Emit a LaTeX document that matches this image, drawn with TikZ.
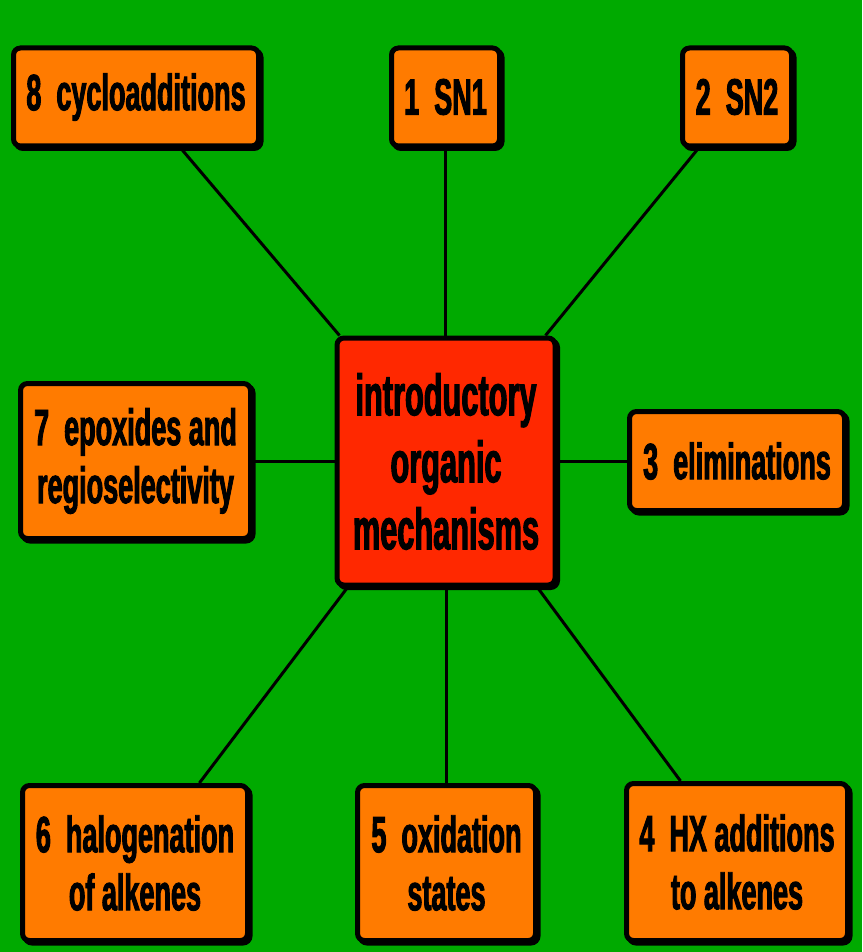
\documentclass[tikz,border=0pt]{standalone}
\usepackage{fontspec}
\newfontfamily\boxfont{Liberation Sans}[FakeStretch=0.53,FakeBold=1.8]
\usetikzlibrary{shadows,calc,backgrounds}
\definecolor{bggreen}{RGB}{0,170,0}
\definecolor{boxorange}{RGB}{255,123,0}
\definecolor{boxred}{RGB}{255,40,0}
\tikzset{
  topic/.style={draw=black, line width=5pt, rounded corners=7pt, fill=boxorange,
    drop shadow={shadow xshift=2.5pt, shadow yshift=-2.5pt, fill=black, draw=black, line width=5pt, opacity=1},
    inner sep=0pt, align=center,
    font=\boxfont\bfseries\fontsize{51}{58}\selectfont},
  hub/.style={topic, fill=boxred, font=\boxfont\bfseries\fontsize{58}{67}\selectfont},
  link/.style={line width=3pt, draw=black}
}
\begin{document}
\begin{tikzpicture}[x=1pt,y=-1pt]
\useasboundingbox (0,0) rectangle (862,952);
% hub
\node[hub, minimum width=218pt, minimum height=247pt] (c) at (446,461.5) {introductory\\organic\\mechanisms};
% topics
\node[topic, minimum width=245pt, minimum height=98pt] (b8) at (136,97) {8\ \ cycloadditions};
\node[topic, minimum width=108pt, minimum height=98pt] (b1) at (445.5,97) {1\ \ SN1};
\node[topic, minimum width=109pt, minimum height=98pt] (b2) at (737,97) {2\ \ SN2};
\node[topic, minimum width=230pt, minimum height=155pt] (b7) at (135.5,461) {7\ \ epoxides and\\regioselectivity};
\node[topic, minimum width=215pt, minimum height=99pt] (b3) at (737,461) {3\ \ eliminations};
\node[topic, minimum width=225pt, minimum height=155pt] (b6) at (135,863) {6\ \ halogenation\\of alkenes};
\node[topic, minimum width=178pt, minimum height=155pt] (b5) at (446.5,863) {5\ \ oxidation\\states};
\node[topic, minimum width=221pt, minimum height=157pt] (b4) at (737,862) {4\ \ HX additions\\to alkenes};
% connectors
\begin{pgfonlayer}{background}
\fill[bggreen] (0,0) rectangle (862,952);
\draw[link] ($(b8.south west)!0.68!(b8.south east)$) -- ($(c.north west)+(5,0)$);
\draw[link] (b1.south) -- (c.north -| b1.south);
\draw[link] ($(b2.south west)!0.16!(b2.south east)$) -- ($(c.north east)+(-12,0)$);
\draw[link] (b7.east) -- (c.west |- b7.east);
\draw[link] (c.east |- b3.west) -- (b3.west);
\draw[link] ($(b6.north west)!0.78!(b6.north east)$) -- ($(c.south west)+(13,0)$);
\draw[link] (b5.north) -- (c.south -| b5.north);
\draw[link] ($(b4.north west)!0.25!(b4.north east)$) -- ($(c.south east)+(-20,0)$);
\end{pgfonlayer}
\end{tikzpicture}
\end{document}
